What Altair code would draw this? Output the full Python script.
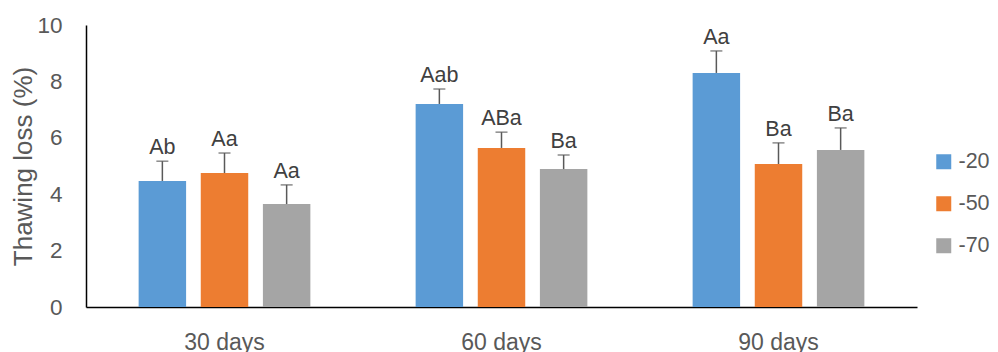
import altair as alt
import pandas as pd

days = ["30 days", "60 days", "90 days"]
series = ["-20", "-50", "-70"]
values = {
    "-20": [4.47, 7.20, 8.30],
    "-50": [4.75, 5.64, 5.07],
    "-70": [3.65, 4.89, 5.57],
}
errors = {
    "-20": [0.70, 0.53, 0.78],
    "-50": [0.71, 0.56, 0.75],
    "-70": [0.68, 0.50, 0.78],
}
letters = {
    "-20": ["Ab", "Aab", "Aa"],
    "-50": ["Aa", "ABa", "Ba"],
    "-70": ["Aa", "Ba", "Ba"],
}
colors = ["#5B9BD5", "#ED7D31", "#A5A5A5"]

rows = []
for s in series:
    for i, d in enumerate(days):
        v = values[s][i]
        e = errors[s][i]
        rows.append({"day": d, "series": s, "value": v, "top": v + e, "label": letters[s][i]})
df = pd.DataFrame(rows)

FONT = "Liberation Sans"
x = alt.X("day:N", sort=days, title=None,
          scale=alt.Scale(paddingInner=0.38, paddingOuter=0.19),
          axis=alt.Axis(labelAngle=0, labelFontSize=23, labelColor="#595959", labelFont=FONT,
                        ticks=False, tickSize=0, labelPadding=24, domainColor="#000000", domainWidth=1.5))
xo = alt.XOffset("series:N", sort=series, scale=alt.Scale(paddingInner=0.236, paddingOuter=0))

base = alt.Chart(df)

bars = base.mark_bar().encode(
    x=x, xOffset=xo,
    y=alt.Y("value:Q", title="Thawing loss (%)",
            scale=alt.Scale(domain=[0, 10], nice=False),
            axis=alt.Axis(values=[0, 2, 4, 6, 8, 10], grid=False, ticks=False, tickSize=0,
                          labelFontSize=22.5, labelColor="#595959", labelFont=FONT, labelPadding=24,
                          titleFontSize=26, titleColor="#595959", titleFont=FONT,
                          titleFontWeight="normal", titlePadding=0,
                          domainColor="#000000", domainWidth=1.5)),
    color=alt.Color("series:N", sort=series, scale=alt.Scale(domain=series, range=colors),
                    legend=alt.Legend(title=None, orient="none", legendX=847, legendY=126,
                                      symbolType="square", symbolSize=225, symbolStrokeWidth=0,
                                      labelFontSize=21.5, labelColor="#595959", labelFont=FONT,
                                      rowPadding=19, labelOffset=4, padding=0)),
)

err = base.mark_rule(color="#595959", strokeWidth=1.5).encode(
    x=x, xOffset=xo, y="value:Q", y2="top:Q"
)
caps = base.mark_tick(color="#595959", thickness=1.5, size=12).encode(
    x=x, xOffset=xo, y="top:Q"
)
text = base.mark_text(baseline="bottom", dy=-2, fontSize=21.5, color="#404040", font=FONT).encode(
    x=x, xOffset=xo, y="top:Q", text="label:N"
)

chart = alt.layer(bars, err, caps, text).properties(
    width=831, height=282,
    autosize=alt.AutoSizeParams(type="none"),
    padding={"left": 78, "top": 17, "right": 73, "bottom": 45},
).configure_view(stroke=None).configure_axis(labelFont=FONT)

chart.save("out.html", embed_options={"renderer": "svg", "actions": False})
